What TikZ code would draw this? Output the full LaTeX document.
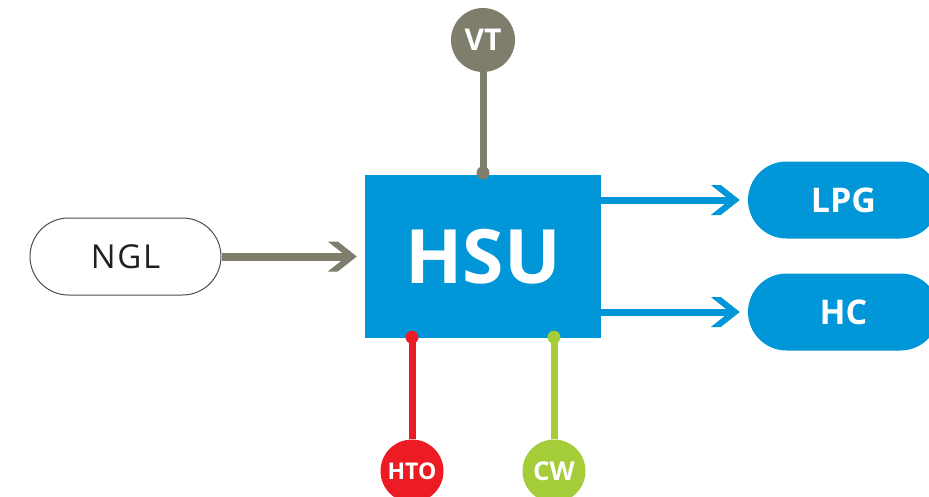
\documentclass[tikz,border=0pt]{standalone}
\usepackage{fontspec}
\setmainfont{Open Sans}
\usetikzlibrary{shapes.misc,calc}
\definecolor{hblue}{HTML}{0096D7}
\definecolor{hgray}{HTML}{7F7E6C}
\definecolor{hred}{HTML}{ED1C24}
\definecolor{hgreen}{HTML}{A5CD39}
\definecolor{hdark}{HTML}{231F20}
\tikzset{
  hsubox/.style={fill=hblue, minimum width=236pt, minimum height=163pt, inner sep=0pt, text=white, font=\bfseries\fontsize{75}{75}\selectfont},
  pill/.style={rounded rectangle, minimum width=191pt, minimum height=77pt, inner sep=0pt},
  outpill/.style={pill, fill=hblue, text=white, font=\bfseries\fontsize{34}{34}\selectfont},
  inpill/.style={pill, fill=white, draw=hdark!80, line width=1pt, text=hdark, font=\fontsize{33}{33}\selectfont\addfontfeature{LetterSpace=5}},
  bubble/.style={circle, minimum size=#1, inner sep=0pt, text=white},
  feed/.style={line width=7pt},
  chevron/.pic={\fill (-29,-15) -- (-19,-15) -- (0,0) -- (-19,15) -- (-29,15) -- (-10,0) -- cycle;}
}
\begin{document}
\begin{tikzpicture}[x=1pt,y=-1pt]
\useasboundingbox (0,0) rectangle (929,496);
% main unit
\node[hsubox] (hsu) at (483,256.5) {HSU};
% input / outputs
\node[inpill] (ngl) at (125.5,256.5) {NGL};
\node[outpill] (lpg) at (843.5,200) {LPG};
\node[outpill] (hc) at (843.5,312) {HC};
% utility bubbles
\node[bubble=64pt, fill=hgray, font=\bfseries\fontsize{30}{30}\selectfont] (vt) at (483,40) {VT};
\node[bubble=63pt, fill=hred, font=\bfseries\fontsize{23}{23}\selectfont] (hto) at (412,471) {HTO};
\node[bubble=63pt, fill=hgreen, font=\bfseries\fontsize{26}{26}\selectfont] (cw) at (554,471) {CW};
% attachment points on the box
\coordinate (vtd) at ($(hsu.north)+(0,-2)$);
\coordinate (htod) at ($(hto |- hsu.south)+(0,-1)$);
\coordinate (cwd) at ($(cw |- hsu.south)+(0,-1)$);
% utility connectors
\draw[feed, hgray] (vt) -- (vtd);
\fill[hgray] (vtd) circle (6.5);
\draw[feed, hred] (hto) -- (htod);
\fill[hred] (htod) circle (6.5);
\draw[feed, hgreen] (cw) -- (cwd);
\fill[hgreen] (cwd) circle (6.5);
% feed arrow
\draw[feed, line width=8pt, hgray, shorten >=18pt] (ngl.east) -- (hsu.west);
\path ($(hsu.west)+(-8,0)$) pic[hgray] {chevron};
% product arrows
\coordinate (lpgs) at (hsu.east |- lpg);
\coordinate (hcs) at (hsu.east |- hc);
\draw[feed, hblue, shorten >=18pt] (lpgs) -- (lpg.west);
\path ($(lpg.west)+(-8,0)$) pic[hblue] {chevron};
\draw[feed, hblue, shorten >=18pt] (hcs) -- (hc.west);
\path ($(hc.west)+(-8,0)$) pic[hblue] {chevron};
\end{tikzpicture}
\end{document}
